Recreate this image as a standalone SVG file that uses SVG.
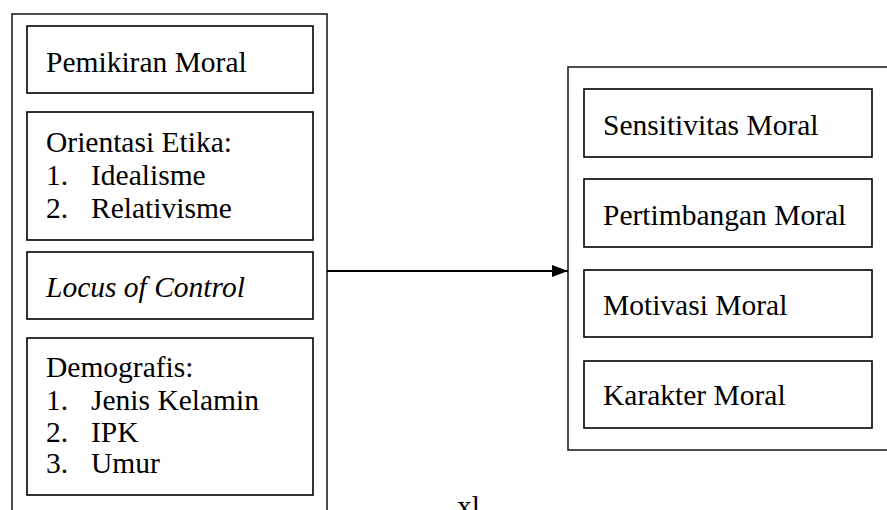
<svg xmlns="http://www.w3.org/2000/svg" width="887" height="510" viewBox="0 0 887 510">
<style>
.box{fill:#fff;stroke:#000;stroke-width:1.6}
.outer{fill:#fff;stroke:#111;stroke-width:1.5}
text{font-family:"Liberation Serif","Times New Roman",serif;font-size:29.5px;fill:#000}
.it{font-style:italic}
</style>
<defs>
<marker id="arr" markerWidth="16" markerHeight="12" refX="16" refY="6" orient="auto" markerUnits="userSpaceOnUse">
<path d="M0,0 L16,6 L0,12 Z" fill="#000"/>
</marker>
</defs>
<rect width="887" height="510" fill="#fff"/>
<g id="left-group">
<rect class="outer" x="12" y="14" width="315" height="510"/>
<g id="pemikiran">
<rect class="box" x="27" y="26" width="286" height="67"/>
<text x="46" y="72">Pemikiran Moral</text>
</g>
<g id="orientasi">
<rect class="box" x="27" y="112" width="286" height="128"/>
<text x="46" y="152">Orientasi Etika:</text>
<text x="46" y="185">1.</text><text x="91" y="185">Idealisme</text>
<text x="46" y="218">2.</text><text x="91" y="218">Relativisme</text>
</g>
<g id="locus">
<rect class="box" x="27" y="252" width="286" height="67"/>
<text class="it" x="46" y="297">Locus of Control</text>
</g>
<g id="demografis">
<rect class="box" x="27" y="338" width="286" height="157"/>
<text x="46" y="377">Demografis:</text>
<text x="46" y="410">1.</text><text x="91" y="410">Jenis Kelamin</text>
<text x="46" y="442">2.</text><text x="91" y="442">IPK</text>
<text x="46" y="473">3.</text><text x="91" y="473">Umur</text>
</g>
</g>
<g id="right-group">
<rect class="outer" x="568" y="67" width="330" height="383"/>
<g id="sensitivitas">
<rect class="box" x="584" y="89" width="288" height="68"/>
<text x="603" y="135">Sensitivitas Moral</text>
</g>
<g id="pertimbangan">
<rect class="box" x="584" y="179" width="288" height="68"/>
<text x="603" y="225">Pertimbangan Moral</text>
</g>
<g id="motivasi">
<rect class="box" x="584" y="270" width="288" height="67"/>
<text x="603" y="315">Motivasi Moral</text>
</g>
<g id="karakter">
<rect class="box" x="584" y="361" width="288" height="67"/>
<text x="603" y="405">Karakter Moral</text>
</g>
</g>
<g id="connectors">
<line x1="327" y1="271" x2="568" y2="271" stroke="#000" stroke-width="2" marker-end="url(#arr)"/>
</g>
<text x="457" y="516">xl</text>
</svg>
